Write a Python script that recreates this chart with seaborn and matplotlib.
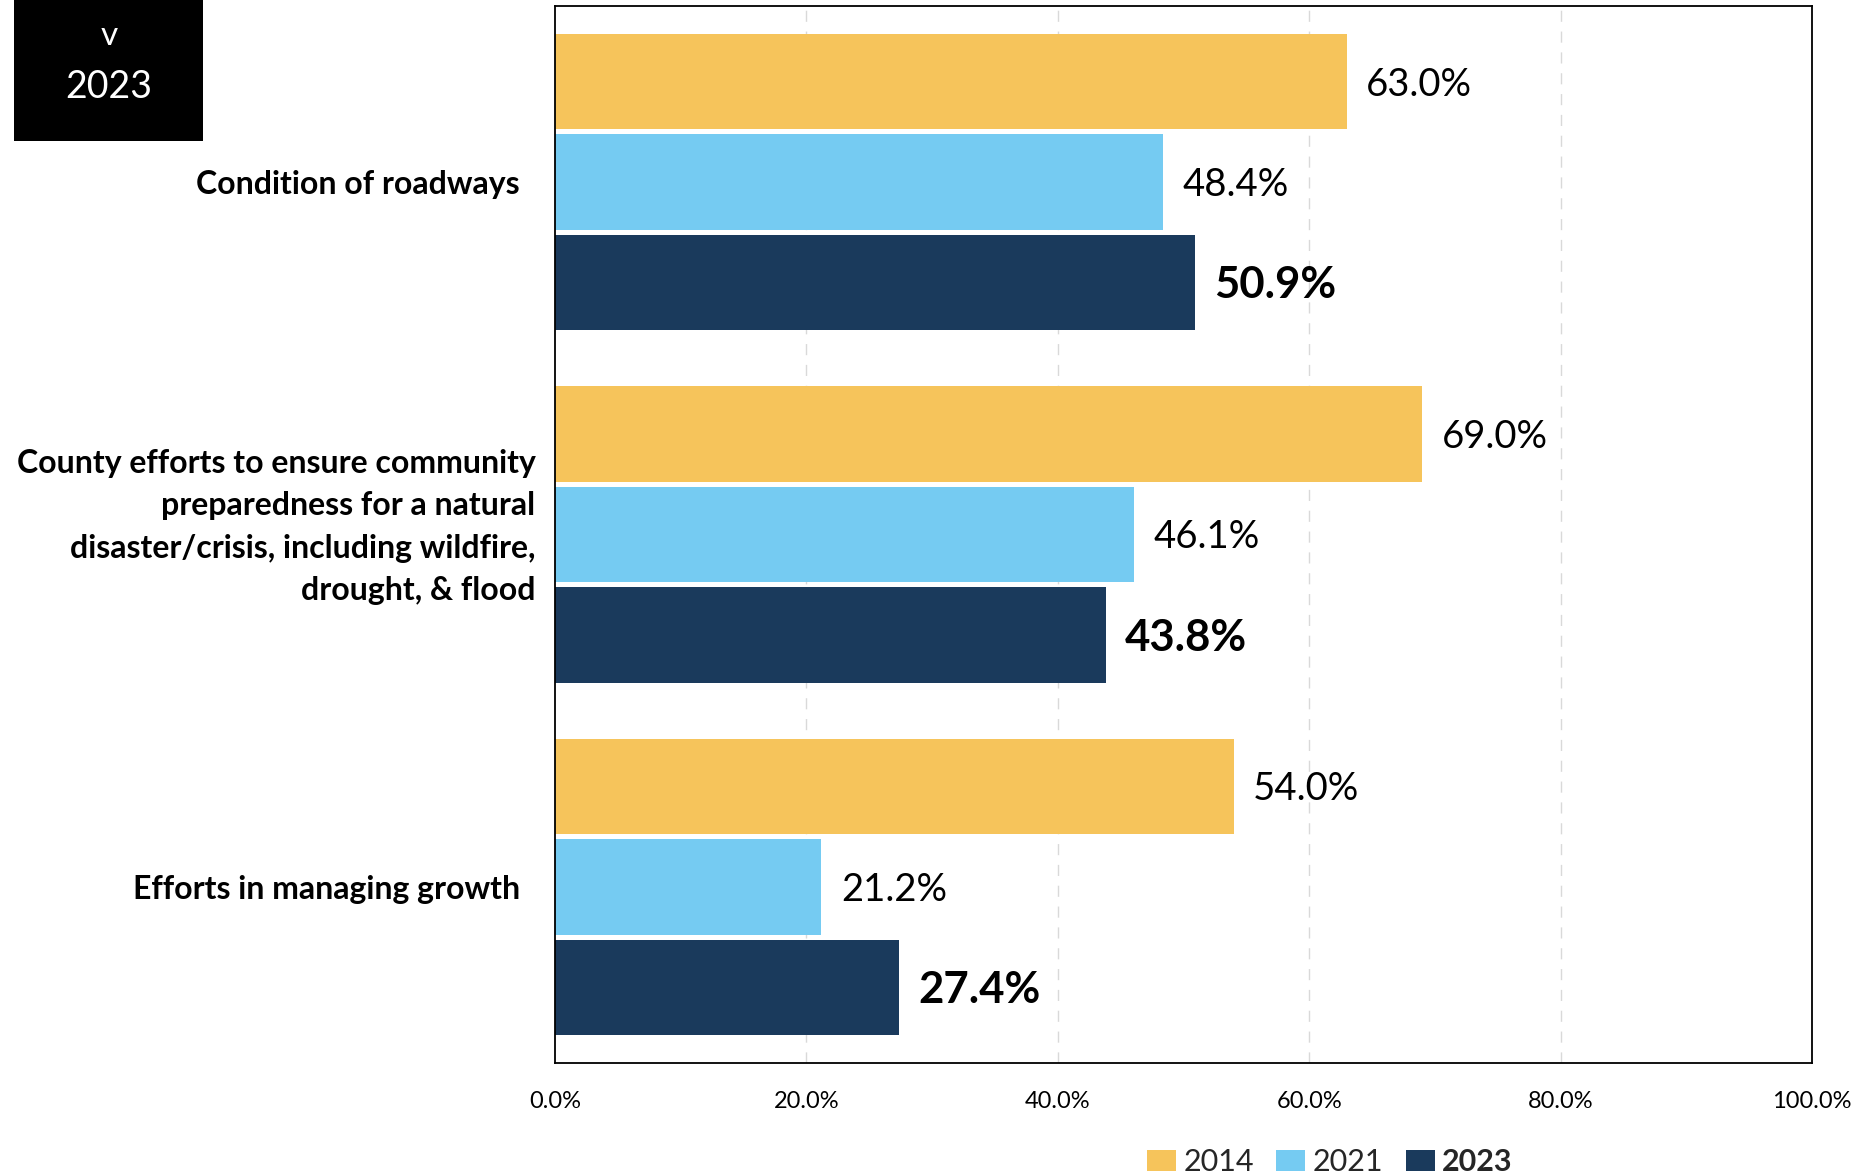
import matplotlib
matplotlib.use("Agg")
import matplotlib.pyplot as plt
from matplotlib.patches import Rectangle
import matplotlib.transforms as mtransforms
import seaborn as sns
import pandas as pd

# Survey items and share of respondents per year
items = [
    "Condition of roadways  ",
    "County efforts to ensure community\npreparedness for a natural\ndisaster/crisis, including wildfire,\ndrought, & flood",
    "Efforts in managing growth  ",
]
years = ["2014", "2021", "2023"]
values_2014 = [63.0, 69.0, 54.0]
values_2021 = [48.4, 46.1, 21.2]
values_2023 = [50.9, 43.8, 27.4]
x_ticks = [0, 20, 40, 60, 80, 100]
x_tick_labels = ["0.0%", "20.0%", "40.0%", "60.0%", "80.0%", "100.0%"]
colors = ["#F6C45B", "#75CBF2", "#1A3A5C"]

rows = []
for year, vals in zip(years, [values_2014, values_2021, values_2023]):
    for item, v in zip(items, vals):
        rows.append({"item": item, "year": year, "value": v})
df = pd.DataFrame(rows)

sns.set_theme(style="white")
plt.rcParams["font.family"] = ["Lato", "DejaVu Sans"]

fig = plt.figure(figsize=(18.73, 11.75), dpi=100)
ax = fig.add_axes([555 / 1873, 1 - 1063 / 1175, (1812 - 555) / 1873, (1063 - 6) / 1175])

sns.barplot(
    data=df, y="item", x="value", hue="year", hue_order=years,
    order=items, orient="h", palette=colors, width=0.855, gap=0.05,
    saturation=1, ax=ax, linewidth=0,
)

ax.set_xlim(0, 100)
ax.set_ylim(len(items) - 0.5, -0.5)
ax.set_xticks(x_ticks)
ax.set_xticklabels(x_tick_labels, family=["Liberation Sans Narrow", "Lato"], fontsize=17)
ax.set_xlabel("")
ax.set_ylabel("")
ax.tick_params(axis="x", length=0, pad=20, colors="#000000")
ax.tick_params(axis="y", length=0, pad=14)
for lab in ax.get_yticklabels():
    lab.set_fontsize(23)
    lab.set_fontweight("bold")
    lab.set_color("#000000")
    lab.set_linespacing(1.55)
    lab.set_horizontalalignment("right")
    lab.set_multialignment("right")
    if "\n" in lab.get_text():
        # lift the wrapped label slightly above the group centre
        lab.set_transform(lab.get_transform() +
                          mtransforms.ScaledTranslation(0, 12 / 72, fig.dpi_scale_trans))

# dashed vertical gridlines
for xv in x_ticks[1:-1]:
    ax.axvline(xv, color="#D9D9D9", lw=1.0, ls=(0, (8, 7)), zorder=0)
ax.set_axisbelow(True)
for sp in ax.spines.values():
    sp.set_visible(True)
    sp.set_color("#000000")
    sp.set_linewidth(1.3)

# value labels; latest year emphasised
for i, cont in enumerate(ax.containers):
    bold = years[i] == "2023"
    texts = ax.bar_label(
        cont, labels=[f"{v:.1f}%" for v in cont.datavalues], padding=14,
        fontsize=31.5 if bold else 27.5, fontweight="bold" if bold else "normal",
        color="#000000",
    )
    for t in texts:
        t.set_y(-2)

handles, labels = ax.get_legend_handles_labels()
if ax.get_legend() is not None:
    ax.get_legend().remove()
leg = fig.legend(
    handles, labels, loc="center", bbox_to_anchor=(1330 / 1873, 1 - 1162 / 1175),
    ncol=3, frameon=False, fontsize=22, handlelength=0.95, handleheight=0.7,
    handletextpad=0.25, columnspacing=0.72, borderaxespad=0,
)
leg.get_texts()[2].set_fontweight("bold")

# year badge in the top-left corner
fig.patches.append(Rectangle((14 / 1873, 1 - 141 / 1175), 189 / 1873, 141 / 1175,
                             transform=fig.transFigure, facecolor="#000000",
                             edgecolor="none", zorder=5))
fig.text(109 / 1873, 1 - 36 / 1175, "v", color="white", fontsize=24,
         ha="center", va="center", zorder=6)
fig.text(109 / 1873, 1 - 87 / 1175, "2023", color="white", fontsize=27,
         ha="center", va="center", zorder=6)

fig.savefig("out.png", dpi=100)
